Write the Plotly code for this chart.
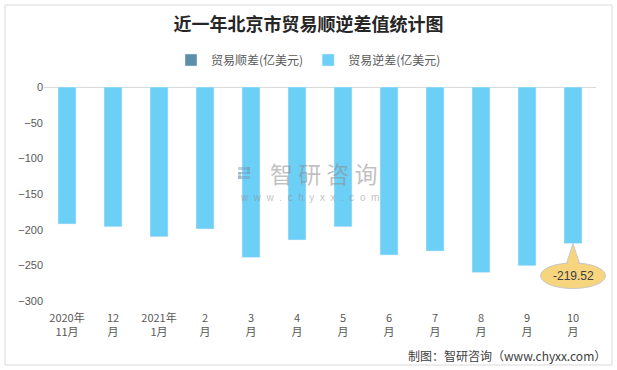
import plotly.graph_objects as go

categories = ["2020年<br>11月", "12<br>月", "2021年<br>1月", "2<br>月", "3<br>月", "4<br>月",
              "5<br>月", "6<br>月", "7<br>月", "8<br>月", "9<br>月", "10<br>月"]
surplus = [0, 0, 0, 0, 0, 0, 0, 0, 0, 0, 0, 0]
deficit = [-192, -196, -210, -199, -239, -214.5, -196, -235.5, -230, -260, -250.5, -219.52]

W, H = 617, 370
L, R, T, B = 44, 21, 87, 69
pw, ph = W - L - R, H - T - B
ymin, ymax = -300, 0

def px2paper_x(px):
    return (px - L) / pw

def px2paper_y(py):
    return (H - B - py) / ph

def val2paper_y(v):
    return (v - ymin) / (ymax - ymin)

fig = go.Figure()
fig.add_trace(go.Bar(x=categories, y=surplus, name="贸易顺差(亿美元)", marker_color="#5B8FA9"))
fig.add_trace(go.Bar(x=categories, y=deficit, name="贸易逆差(亿美元)", marker_color="#6CCFF6"))

# callout on last bar
n = len(categories)
last_i = n - 1
cx = (last_i + 0.5) / n
tip_y = val2paper_y(deficit[-1])
e_top = val2paper_y(deficit[-1] - 27)
e_bot = val2paper_y(deficit[-1] - 63)
e_mid = (e_top + e_bot) / 2
half_w = 32.5 / pw
base_w = 7 / pw
shapes = []
shapes.append(dict(type="path", xref="paper", yref="paper",
                   path=f"M {cx - base_w} {e_top - 0.01} L {cx} {tip_y} L {cx + base_w} {e_top - 0.01} Z",
                   fillcolor="#F7D47E", line=dict(color="#C8C8C8", width=1)))
shapes.append(dict(type="circle", xref="paper", yref="paper",
                   x0=cx - half_w, x1=cx + half_w, y0=e_bot, y1=e_top,
                   fillcolor="#F7D47E", line=dict(color="#C8C8C8", width=1)))
shapes.append(dict(type="path", xref="paper", yref="paper",
                   path=f"M {cx - base_w + 0.002} {e_top - 0.025} L {cx} {tip_y - 0.012} L {cx + base_w - 0.002} {e_top - 0.025} Z",
                   fillcolor="#F7D47E", line=dict(width=0)))
# outer border
shapes.append(dict(type="rect", xref="paper", yref="paper",
                   x0=px2paper_x(5), x1=px2paper_x(612), y0=px2paper_y(365), y1=px2paper_y(5),
                   line=dict(color="#D9D9D9", width=1), fillcolor="rgba(0,0,0,0)", layer="below"))
# watermark logo blocks
logo_col = "rgba(120,150,185,0.45)"
for (x0, y0, x1, y1) in [(238, 167, 250, 170), (247, 167, 250, 174), (238, 172, 250, 174),
                         (238, 172, 241, 179), (238, 176, 250, 179)]:
    shapes.append(dict(type="rect", xref="paper", yref="paper",
                       x0=px2paper_x(x0), x1=px2paper_x(x1), y0=px2paper_y(y1), y1=px2paper_y(y0),
                       fillcolor=logo_col, line=dict(width=0), layer="above"))

annotations = [
    dict(x=cx, y=e_mid, xref="paper", yref="paper", xanchor="center", yanchor="middle",
         text=f"{deficit[-1]:.2f}", showarrow=False,
         font=dict(size=12, color="#404040", family="Liberation Sans, Arial")),
    dict(x=px2paper_x(608), y=px2paper_y(355), xref="paper", yref="paper", xanchor="right", yanchor="middle",
         text="制图：智研咨询（www.chyxx.com）", showarrow=False,
         font=dict(size=12, color="#404040", family="Noto Sans CJK SC")),
    dict(x=px2paper_x(323), y=px2paper_y(173), xref="paper", yref="paper", xanchor="center", yanchor="middle",
         text="智 研 咨 询", showarrow=False,
         font=dict(size=23, color="rgba(140,140,140,0.55)", family="Noto Sans CJK SC")),
    dict(x=px2paper_x(309), y=px2paper_y(197), xref="paper", yref="paper", xanchor="center", yanchor="middle",
         text="w  w  w  .  c  h  y  x  x  .  c  o  m", showarrow=False,
         font=dict(size=10, color="rgba(140,140,140,0.55)", family="Liberation Sans, Arial")),
]

fig.update_layout(
    width=W, height=H,
    margin=dict(l=L, r=R, t=T, b=B, autoexpand=False),
    paper_bgcolor="white", plot_bgcolor="white",
    barmode="overlay", bargap=0.61,
    title=dict(text="<b>近一年北京市贸易顺逆差值统计图</b>", x=0.5, xanchor="center",
               y=1 - 25 / H, yanchor="middle",
               font=dict(size=18, color="#262626", family="Noto Sans CJK SC")),
    legend=dict(orientation="h", x=0.5, xanchor="center", xref="container",
                y=1 - 60 / H, yanchor="middle", yref="container",
                font=dict(size=12, color="#595959", family="Noto Sans CJK SC"),
                traceorder="normal", itemwidth=30),
    xaxis=dict(showgrid=False, showline=False, ticks="", ticklabelstandoff=9, automargin=False,
               tickfont=dict(size=11, color="#595959", family="Noto Sans CJK SC")),
    yaxis=dict(range=[ymin, ymax], dtick=50, showgrid=False, showline=False, automargin=False,
               zeroline=True, zerolinecolor="#D9D9D9", zerolinewidth=1,
               tickfont=dict(size=11, color="#595959", family="Liberation Sans, Arial")),
    shapes=shapes, annotations=annotations,
)

fig.write_html("out.html", config={"displayModeBar": False},
               post_script="document.body.style.margin='0';document.body.style.overflow='hidden';")
